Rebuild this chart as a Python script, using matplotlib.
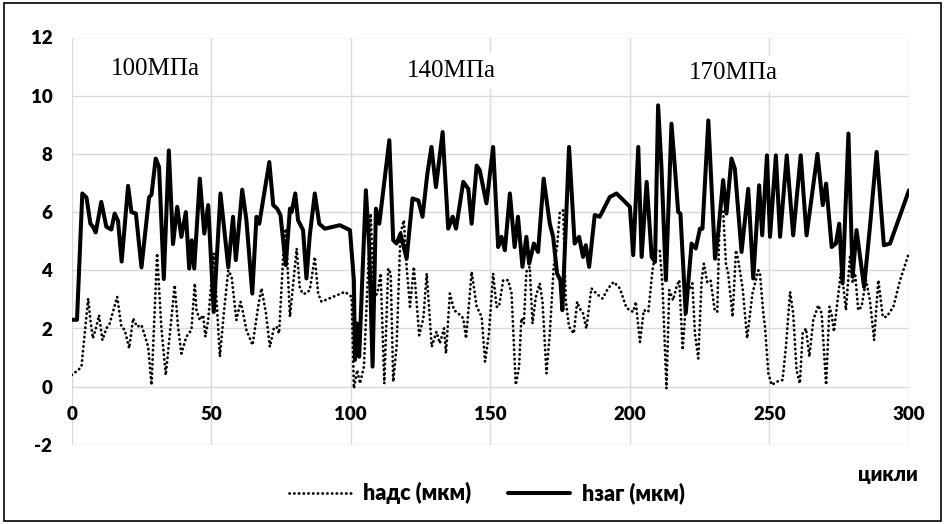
import matplotlib
matplotlib.use("Agg")
import matplotlib.pyplot as plt
from matplotlib.patches import Rectangle

plt.rcParams["axes.unicode_minus"] = False

# h_заг (мкм): cycle positions and values
hzag_cycles = [0, 1.9, 3.8, 5.3, 6.7, 7.6, 8.6, 10.6, 12.4, 14.2, 15.4, 16.6, 17.9, 20.2, 21.4, 23.0,
               25.0, 27.7, 28.6, 30.1, 31.3, 33.0, 34.8, 36.3, 37.8, 39.3, 40.9, 42.1, 43.0, 43.9,
               45.9, 47.5, 48.9, 50.9, 53.3, 56.1, 57.8, 58.8, 61.1, 62.6, 64.7, 66.2, 67.2, 70.8,
               72.2, 73.6, 74.8, 76.7, 78.2, 78.8, 80.1, 81.1, 82.9, 84.1, 85.3, 87.1, 88.7, 90.7,
               96.1, 99.7, 101.1, 101.5, 102.3, 103.0, 105.4, 106.6, 107.8, 109.0, 110.2, 113.8,
               115.2, 116.4, 117.8, 120.0, 122.1, 124.2, 125.7, 127.4, 128.9, 130.5, 132.9, 134.9,
               136.5, 137.7, 140.3, 142.1, 143.3, 145.1, 146.2, 148.6, 151.0, 152.8, 154.0, 155.2,
               157.0, 158.7, 159.9, 161.5, 162.9, 163.9, 165.6, 167.1, 169.1, 171.3, 172.5, 173.9,
               175.1, 175.8, 178.2, 180.2, 181.8, 183.2, 184.2, 185.4, 187.4, 189.2, 192.8, 195.2,
               198.8, 200.0, 201.2, 203.0, 204.2, 206.0, 207.8, 209.0, 210.1, 211.3, 212.9, 214.9,
               216.1, 217.3, 218.1, 220.0, 222.1, 223.6, 225.1, 226.0, 228.1, 230.5, 231.6, 233.4,
               234.6, 236.4, 237.6, 240.0, 242.4, 244.2, 246.3, 247.4, 249.1, 250.2, 252.3, 253.8,
               256.2, 258.5, 261.2, 263.3, 267.2, 269.1, 270.3, 272.3, 273.8, 275.0, 276.2, 278.3,
               279.8, 281.2, 283.9, 286.0, 288.4, 291.0, 293.2, 300.0]
hzag_values = [2.3, 2.3, 6.64, 6.5, 5.6, 5.5, 5.3, 6.35, 5.5, 5.4, 5.95, 5.7, 4.3, 6.9, 6.0, 5.95,
               4.1, 6.5, 6.6, 7.84, 7.55, 3.7, 8.12, 4.9, 6.18, 5.15, 6.0, 4.06, 5.03, 4.06,
               7.15, 5.26, 6.24, 2.57, 6.64, 4.1, 5.84, 4.35, 6.77, 5.72, 3.2, 5.84, 5.6, 7.72,
               6.24, 6.12, 5.9, 4.18, 6.12, 6.0, 6.64, 5.72, 5.38, 3.72, 5.2, 6.64, 5.6, 5.43,
               5.55, 5.38, 3.66, 0.92, 2.17, 1.03, 6.75, 4.8, 0.69, 6.12, 5.6, 8.47,
               5.03, 4.92, 5.26, 4.4, 6.47, 6.4, 5.84, 7.3, 8.24, 6.86, 8.75, 5.43,
               5.84, 5.43, 7.04, 6.8, 5.6, 7.6, 7.44, 6.3, 8.24, 4.8, 5.15, 4.69,
               6.64, 4.8, 5.84, 4.12, 5.15, 4.23, 4.92, 4.63, 7.15, 5.6, 5.15, 3.89,
               3.66, 2.63, 8.24, 4.92, 5.15, 4.46, 4.86, 4.12, 5.9, 5.84, 6.52, 6.64,
               6.3, 6.18, 4.52, 8.24, 4.46, 7.04, 4.46, 4.29, 9.67, 7.55, 3.66, 9.04,
               7.55, 6.0, 5.95, 2.52, 4.92, 4.75, 5.43, 5.43, 9.15, 4.4, 5.26, 7.1,
               5.95, 7.84, 7.49, 4.63, 6.8, 3.72, 6.92, 5.2, 7.95, 5.15, 7.95, 5.15,
               7.95, 5.2, 7.95, 5.2, 8.0, 6.24, 6.98, 4.8, 4.92, 5.6, 3.55, 8.7,
               3.78, 5.38, 3.43, 5.49, 8.07, 4.86, 4.92, 6.75]

# h_адс (мкм): cycle positions and values
hads_cycles = [0, 2.3, 3.5, 5.9, 6.7, 7.6, 8.8, 9.8, 11.0, 12.4, 13.6, 16.3, 17.8, 19.0, 20.6, 22.0,
               23.4, 25.0, 26.5, 27.4, 28.6, 30.6, 32.1, 33.7, 36.9, 38.1, 39.3, 41.1, 42.9, 44.1,
               44.7, 45.9, 47.1, 47.9, 48.9, 50.9, 53.1, 54.5, 56.1, 57.3, 59.0, 60.5, 61.2, 62.6,
               64.8, 66.8, 68.0, 69.6, 71.0, 72.4, 73.4, 74.3, 75.8, 76.7, 78.2, 80.6, 81.7, 82.7,
               83.9, 85.3, 87.1, 88.3, 89.5, 93.7, 97.9, 100.3, 101.1, 102.3, 103.3, 104.7, 107.1,
               108.3, 109.5, 110.7, 112.0, 113.4, 114.3, 115.2, 116.4, 117.8, 119.0, 120.0, 121.2,
               122.6, 124.5, 126.0, 127.2, 129.0, 130.7, 131.9, 133.4, 134.1, 135.5, 137.0, 138.5,
               140.3, 141.3, 143.3, 145.1, 146.9, 148.1, 149.5, 151.0, 152.2, 153.1, 154.6, 156.4,
               157.6, 159.1, 160.3, 161.1, 162.0, 162.9, 164.1, 165.1, 166.3, 167.7, 168.7, 170.1,
               171.3, 172.7, 173.9, 174.9, 176.1, 177.0, 178.2, 179.9, 181.1, 182.0, 183.2, 184.4,
               186.2, 188.0, 190.2, 192.2, 194.2, 196.4, 198.8, 201.2, 202.1, 203.6, 205.0, 206.6,
               208.1, 209.3, 210.7, 211.7, 213.1, 214.1, 215.5, 216.7, 217.7, 218.9, 220.3, 222.4,
               223.3, 224.5, 225.7, 226.5, 227.7, 228.9, 230.4, 231.3, 232.2, 233.4, 234.4, 235.2,
               236.8, 238.0, 238.8, 240.4, 242.0, 243.9, 246.0, 246.6, 247.8, 248.4, 249.6, 250.8,
               252.6, 254.7, 255.9, 257.4, 258.5, 259.7, 260.9, 261.9, 263.1, 264.3, 265.7, 267.5,
               268.7, 270.3, 271.5, 272.3, 273.1, 274.7, 275.5, 276.5, 277.4, 278.9, 279.8, 280.7,
               281.8, 283.0, 284.6, 286.0, 287.5, 289.0, 289.9, 290.6, 292.0, 294.4, 296.8, 300.0]
hads_values = [0.4, 0.57, 0.69, 3.03, 2.29, 1.66, 2.06, 2.46, 1.6, 2.0, 2.17, 3.09, 2.06, 1.95, 1.32, 2.35,
               2.06, 2.12, 1.66, 1.37, 0.06, 4.58, 2.06, 0.4, 3.49, 2.06, 1.14, 1.72, 1.95, 3.55,
               2.63, 2.29, 2.46, 1.72, 2.29, 4.58, 1.03, 2.52, 4.0, 3.78, 2.29, 2.92, 2.63, 1.95,
               1.43, 2.75, 3.38, 2.52, 1.37, 2.0, 2.06, 1.83, 4.52, 5.43, 2.4, 4.75, 3.43, 3.2,
               3.2, 3.32, 4.46, 3.2, 2.92, 3.09, 3.26, 3.09, -0.06, 0.57, 0.11, 0.69, 5.95,
               3.09, 3.2, 3.89, 0.11, 4.06, 3.89, 0.17, 1.37, 5.26, 5.72, 4.12, 2.75,
               4.12, 1.77, 2.35, 3.89, 1.37, 1.89, 1.49, 2.0, 1.14, 3.2, 2.63, 2.52,
               2.35, 1.66, 3.95, 2.75, 2.4, 0.86, 1.83, 3.89, 2.75, 2.75, 3.66, 3.66,
               3.2, 0.06, 0.69, 2.35, 2.17, 3.95, 4.12, 2.17, 3.09, 3.55, 2.92, 0.46,
               1.83, 4.12, 4.8, 6.0, 6.06, 2.97, 2.06, 1.83, 2.92, 2.69, 2.52, 2.0,
               3.38, 3.2, 3.03, 3.38, 3.6, 3.38, 2.7, 2.57, 2.92, 1.54, 2.63, 2.57,
               4.0, 4.69, 4.69, 3.43, -0.06, 3.32, 2.97, 3.43, 3.66, 1.26, 3.2, 3.55,
               1.83, 0.97, 3.66, 4.23, 3.6, 3.66, 2.63, 2.57, 5.95, 6.06, 4.23, 3.89,
               2.4, 4.69, 4.35, 3.38, 1.66, 3.2, 4.0, 3.89, 2.52, 2.06, 0.46, 0.06,
               0.17, 0.23, 1.37, 3.26, 2.52, 0.57, 0.11, 1.83, 2.0, 1.03, 2.29, 2.8,
               2.52, 0.06, 2.75, 2.46, 1.89, 3.2, 3.89, 3.43, 2.63, 4.52, 3.55, 3.89,
               2.63, 2.75, 3.66, 2.97, 1.6, 3.66, 2.97, 2.4, 2.4, 2.75, 3.66, 4.6]

x_ticks = [0, 50, 100, 150, 200, 250, 300]
y_ticks = [-2, 0, 2, 4, 6, 8, 10, 12]

# stress level captions: (cycle, height, text)
stress_cycles = [29.8, 136.2, 236.9]
stress_heights = [10.92, 10.86, 10.78]
stress_labels = ["100МПа", "140МПа", "170МПа"]

series_labels = ["hадс (мкм)", "hзаг (мкм)"]
x_title = "цикли"

assert len(hzag_cycles) == len(hzag_values)
assert len(hads_cycles) == len(hads_values)

SANS = ["Lato", "Open Sans", "DejaVu Sans"]
GRID = "#d9d9d9"

fig = plt.figure(figsize=(9.45, 5.24), dpi=100)
ax = fig.add_axes([71.7 / 945, 1 - 444.9 / 524, 837.3 / 945, (444.9 - 37.5) / 524])
ax.set_xlim(0, 300)
ax.set_ylim(-2, 12)
ax.set_xticks(x_ticks)
ax.set_yticks(y_ticks)
ax.grid(True, color=GRID, linewidth=1.0, zorder=0)
ax.set_axisbelow(True)
for sp in ax.spines.values():
    sp.set_visible(False)
ax.tick_params(axis="both", length=0)
ax.tick_params(axis="x", labelbottom=False)
ax.tick_params(axis="y", pad=14)
for lab in ax.get_yticklabels():
    lab.set_fontfamily(SANS)
    lab.set_fontweight("heavy")
    lab.set_fontsize(13.5)

# x tick labels sit below the zero line
for t in x_ticks:
    ax.text(t, -0.94, str(t), ha="center", va="center", fontsize=13.5,
            fontweight="heavy", family=SANS, clip_on=False)

line_ads, = ax.plot(hads_cycles, hads_values, color="black", linewidth=2.0,
                    linestyle=(0, (0.1, 1.6)), dash_capstyle="round", zorder=3)
line_zag, = ax.plot(hzag_cycles, hzag_values, color="black", linewidth=2.9,
                    solid_joinstyle="round", solid_capstyle="round", zorder=4)

for cx, cy, txt in zip(stress_cycles, stress_heights, stress_labels):
    ax.text(cx, cy, txt, ha="center", va="center", fontsize=18,
            family=["Liberation Serif", "DejaVu Serif"], zorder=5,
            bbox=dict(boxstyle="square,pad=0.3", facecolor="white", edgecolor="none"))

fig.legend([line_ads, line_zag], series_labels, loc="center",
           bbox_to_anchor=(0.515, 0.059), ncol=2, frameon=False,
           handlelength=2.9, handletextpad=0.55, columnspacing=1.7,
           prop=dict(family=SANS, weight="heavy", size=15.5))

fig.text(888 / 945, 1 - 474 / 524, x_title, ha="center", va="center",
         fontsize=14.5, fontweight="heavy", family=SANS)

# outer frame around the whole figure
fig.patches.append(Rectangle((4 / 945, 3 / 524), 937 / 945, 518 / 524,
                             transform=fig.transFigure, fill=False,
                             edgecolor="black", linewidth=1.2))

fig.savefig("out.png", dpi=100, facecolor="white")
